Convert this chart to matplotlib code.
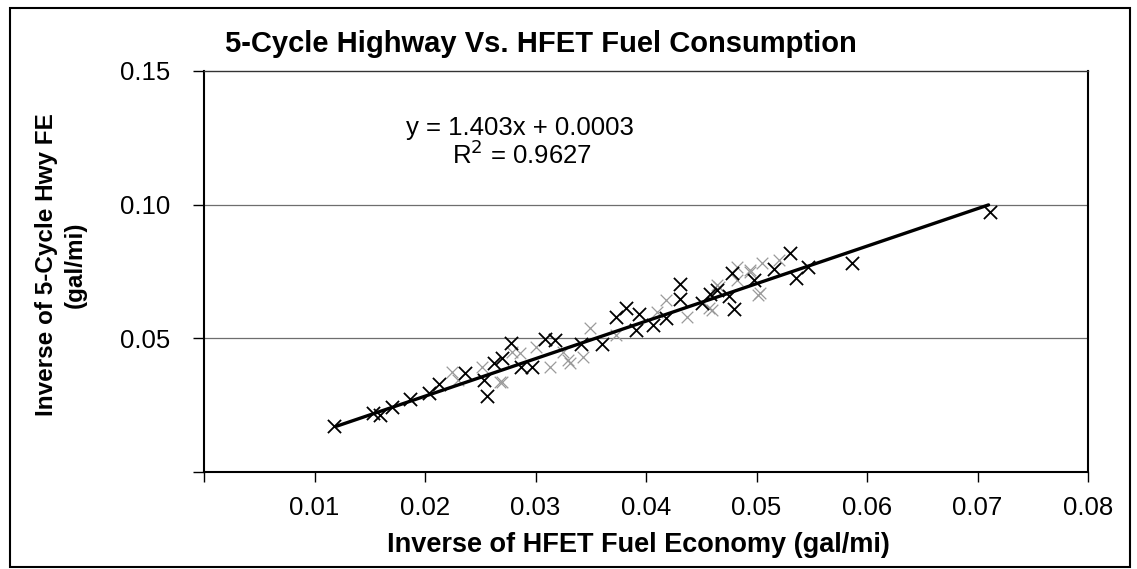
import matplotlib
matplotlib.use("Agg")
import matplotlib.pyplot as plt
from matplotlib.patches import Rectangle
import numpy as np

plt.rcParams['font.family'] = ['Liberation Sans', 'DejaVu Sans']

title = "5-Cycle Highway Vs. HFET Fuel Consumption"
xlabel = "Inverse of HFET Fuel Economy (gal/mi)"
ylabel = "Inverse of 5-Cycle Hwy FE\n(gal/mi)"
eq_text = "y = 1.403x + 0.0003"
r2_text = "R$^2$ = 0.9627"

x_ticks = [0.0, 0.01, 0.02, 0.03, 0.04, 0.05, 0.06, 0.07, 0.08]
x_tick_labels = ["", "0.01", "0.02", "0.03", "0.04", "0.05", "0.06", "0.07", "0.08"]
y_ticks = [0.0, 0.05, 0.10, 0.15]
y_tick_labels = ["", "0.05", "0.10", "0.15"]

# clearly printed points
x_dark = [0.0118, 0.0153, 0.0159, 0.0170, 0.0186, 0.0204, 0.0213, 0.0236, 0.0253, 0.0256,
          0.0262, 0.0270, 0.0278, 0.0287, 0.0297, 0.0309, 0.0318, 0.0341, 0.0360, 0.0373,
          0.0382, 0.0394, 0.0391, 0.0406, 0.0418, 0.0431, 0.0431, 0.0451, 0.0458, 0.0464,
          0.0475, 0.0478, 0.0480, 0.0498, 0.0516, 0.0530, 0.0536, 0.0547, 0.0586, 0.0711]
y_dark = [0.0172, 0.0219, 0.0215, 0.0243, 0.0273, 0.0296, 0.0330, 0.0370, 0.0344, 0.0284,
          0.0408, 0.0426, 0.0483, 0.0393, 0.0393, 0.0498, 0.0494, 0.0480, 0.0479, 0.0580,
          0.0615, 0.0590, 0.0531, 0.0550, 0.0576, 0.0705, 0.0647, 0.0634, 0.0665, 0.0680,
          0.0660, 0.0746, 0.0609, 0.0718, 0.0760, 0.0819, 0.0724, 0.0767, 0.0782, 0.0973]

# faintly printed points
x_faint = [0.0224, 0.0230, 0.0252, 0.0268, 0.0270, 0.0279, 0.0286, 0.0300, 0.0313, 0.0325,
           0.0329, 0.0331, 0.0343, 0.0349, 0.0373, 0.0410, 0.0418, 0.0437, 0.0457, 0.0460,
           0.0464, 0.0466, 0.0482, 0.0482, 0.0494, 0.0494, 0.0501, 0.0503, 0.0505, 0.0520]
y_faint = [0.0374, 0.0344, 0.0393, 0.0337, 0.0337, 0.0449, 0.0445, 0.0468, 0.0393, 0.0449,
           0.0419, 0.0408, 0.0430, 0.0539, 0.0513, 0.0600, 0.0643, 0.0580, 0.0613, 0.0606,
           0.0700, 0.0692, 0.0718, 0.0767, 0.0756, 0.0748, 0.0662, 0.0670, 0.0782, 0.0793]

slope = 1.403
intercept = 0.0003
fit_x = [0.012, 0.071]

W, H = 1137, 569
fig = plt.figure(figsize=(W / 100, H / 100), dpi=100)
fig.patch.set_facecolor('white')
ax = fig.add_axes([204 / W, 1 - 472 / H, (1088 - 204) / W, (472 - 71) / H])

ax.set_xlim(0, 0.08)
ax.set_ylim(0, 0.15)

for yv in y_ticks[1:3]:
    ax.axhline(yv, color='#6e6e6e', lw=0.9, zorder=1)

ax.scatter(x_faint, y_faint, marker='x', s=70, color='#9a9a9a', linewidths=0.9, zorder=2)
ax.scatter(x_dark, y_dark, marker='x', s=90, color='black', linewidths=1.3, zorder=3)

fx = np.array(fit_x)
ax.plot(fx, slope * fx + intercept, color='black', lw=2.4, zorder=4, solid_capstyle='round')

ax.set_xticks(x_ticks)
ax.set_xticklabels(x_tick_labels)
ax.set_yticks(y_ticks)
ax.set_yticklabels(y_tick_labels)
ax.tick_params(axis='x', direction='out', length=7, width=1, pad=10, labelsize=18.5)
ax.tick_params(axis='y', direction='out', length=8, width=1, pad=16, labelsize=18.5)

for side in ['left', 'right', 'bottom']:
    ax.spines[side].set_color('black')
    ax.spines[side].set_linewidth(1.5)
ax.spines['top'].set_color('#333333')
ax.spines['top'].set_linewidth(1.0)

fig.text(638 / W, 1 - 545 / H, xlabel, ha='center', va='center',
         fontsize=19.5, fontweight='bold')

fig.text(61 / W, 1 - 265 / H, ylabel, rotation=90, ha='center', va='center',
         multialignment='center', fontsize=17.5, fontweight='bold', linespacing=1.3)

fig.text(225 / W, 1 - 44 / H, title, ha='left', va='center', fontsize=21, fontweight='bold')

fig.text(520 / W, 1 - 128 / H, eq_text, ha='center', va='center', fontsize=18.5)
fig.text(522 / W, 1 - 155 / H, r2_text, ha='center', va='center', fontsize=18.5)

fig.patches.append(Rectangle((10 / W, 2 / H), (1130 - 10) / W, (561 - 2) / H,
                             transform=fig.transFigure, fill=False, edgecolor='black',
                             lw=1.5, zorder=0))

fig.savefig('out.png', dpi=100)
